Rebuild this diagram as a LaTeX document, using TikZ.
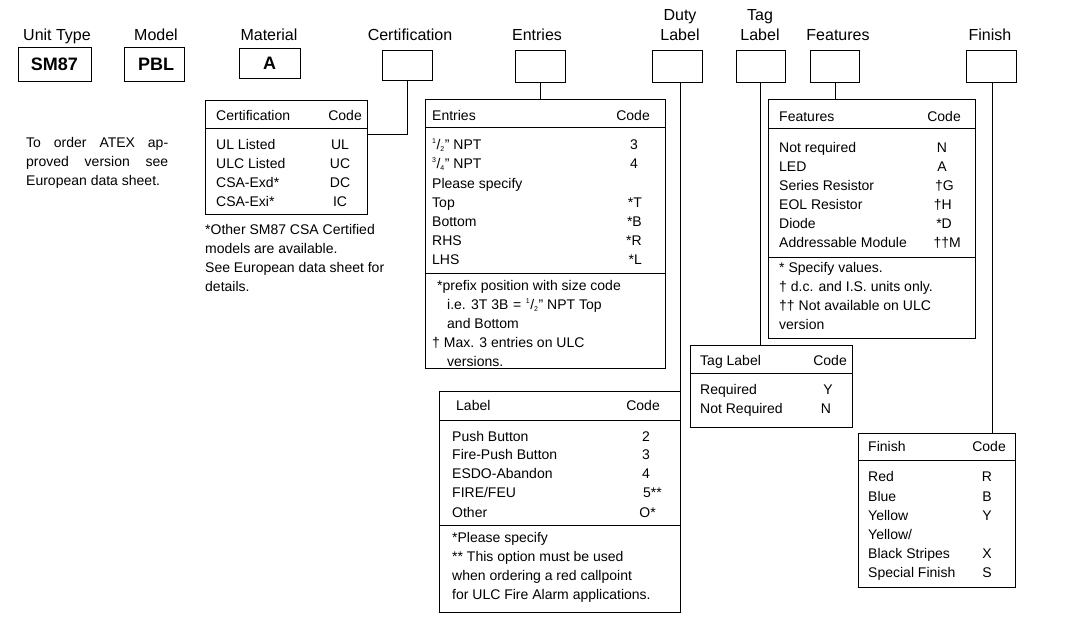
\documentclass[tikz,border=0pt]{standalone}
\usepackage{fontspec}
\setmainfont{Liberation Sans}
\newcommand{\fr}[2]{\textsuperscript{\scriptsize#1}/\textsubscript{\scriptsize#2}}
\newcommand{\T}[4]{\node[txt,anchor=base west] (#1) at (#2,#3) {#4};}
\newcommand{\R}[4]{\node[txt,anchor=base east] (#1) at (#2,#3) {#4};}
\newcommand{\C}[4]{\node[txt,anchor=base] (#1) at (#2,#3) {#4};}
\begin{document}
\begin{tikzpicture}[x=1pt,y=-1pt,
  txt/.style={inner sep=0pt,font=\fontsize{14}{19}\selectfont},
  lbl/.style={inner sep=0pt,font=\fontsize{16}{19}\selectfont,align=center,anchor=base},
  tbl/.style={draw,line width=0.9pt},
  con/.style={draw,line width=0.9pt},
  bigtxt/.style={inner sep=0pt,font=\fontsize{18}{20}\selectfont\bfseries}]
\useasboundingbox (0,0) rectangle (1066,621);
% top labels
\node[lbl] (hU) at (57,40) {Unit Type};
\node[lbl] (hM) at (156,40) {Model};
\node[lbl] (hMa) at (269,40) {Material};
\node[lbl] (hC) at (410,40) {Certification};
\node[lbl] (hE) at (537,40) {Entries};
\node[lbl] (hD1) at (680,20) {Duty};
\node[lbl] (hD2) at (680,40) {Label};
\node[lbl] (hT1) at (760,20) {Tag};
\node[lbl] (hT2) at (760,40) {Label};
\node[lbl] (hF) at (838,40) {Features};
\node[lbl] (hFi) at (990,40) {Finish};
% top boxes
\draw[tbl] (18,47) rectangle (91,81); \node[bigtxt] (bU) at (54.5,64) {SM87};
\draw[tbl] (124,47) rectangle (184,81); \node[bigtxt] (bM) at (156,64) {PBL};
\draw[tbl] (239,48) rectangle (300,78); \node[bigtxt] (bMa) at (269.5,63) {A};
\coordinate (cb) at (407,80); \draw[tbl] (382,50) rectangle (432,80);
\coordinate (eb) at (540,82); \draw[tbl] (515,50) rectangle (565,82);
\coordinate (db) at (680,82); \draw[tbl] (652,50) rectangle (702,82);
\coordinate (tb) at (760,82); \draw[tbl] (736,50) rectangle (785,82);
\coordinate (fb) at (835,82); \draw[tbl] (810,50) rectangle (859,82);
\coordinate (fib) at (992,82); \draw[tbl] (966,50) rectangle (1016,82);
% left text
\node[txt,anchor=north west,text width=142pt,align=justify] (atex) at (26,137) {To order ATEX approved version see European data sheet.};
% Certification table
\draw[tbl] (205,100) rectangle (367,214); \draw[tbl] (205,128)--(367,128);
\T{c0}{216}{120}{Certification} \R{c0c}{362}{120}{Code}
\T{c1}{216}{149}{UL Listed} \C{c1c}{340}{149}{UL}
\T{c2}{216}{168}{ULC Listed} \C{c2c}{340}{168}{UC}
\T{c3}{216}{187}{CSA-Exd*} \C{c3c}{340}{187}{DC}
\T{c4}{216}{206}{CSA-Exi*} \C{c4c}{340}{206}{IC}
\T{cn1}{205}{234}{*Other SM87 CSA Certified}
\T{cn2}{205}{253}{models are available.}
\T{cn3}{205}{272}{See European data sheet for}
\T{cn4}{205}{291}{details.}
\coordinate (cj) at (407,134);
\draw[con] (cb)--(cj)--(367,134);
% Entries table
\draw[tbl] (425,99) rectangle (665,368); \draw[tbl] (425,127)--(665,127); \draw[tbl] (425,273)--(665,273);
\draw[con] (eb)--(540,99);
\T{e0}{432}{120}{Entries} \R{e0c}{650}{120}{Code}
\T{e1}{432}{149}{\fr12" NPT} \C{e1c}{634}{149}{3}
\T{e2}{432}{168}{\fr34" NPT} \C{e2c}{634}{168}{4}
\T{e3}{432}{188}{Please specify}
\T{e4}{432}{207}{Top} \R{e4c}{642}{207}{*T}
\T{e5}{432}{226}{Bottom} \R{e5c}{642}{226}{*B}
\T{e6}{432}{245}{RHS} \R{e6c}{642}{245}{*R}
\T{e7}{432}{264}{LHS} \R{e7c}{642}{264}{*L}
\T{en1}{437}{290}{*prefix position with size code}
\T{en2}{447}{309}{i.e. 3T 3B\,\,=\,\,\fr12" NPT Top}
\T{en3}{447}{328}{and Bottom}
\T{en4}{432}{347}{† Max. 3 entries on ULC}
\T{en5}{447}{366}{versions.}
% Duty label table
\draw[tbl] (439,391) rectangle (680,612); \draw[tbl] (439,420)--(680,420); \draw[tbl] (439,525)--(680,525);
\draw[con] (db)--(680,391);
\T{l0}{456}{410}{Label} \R{l0c}{660}{410}{Code}
\T{l1}{452}{441}{Push Button} \C{l1c}{646}{441}{2}
\T{l2}{452}{459}{Fire-Push Button} \C{l2c}{646}{459}{3}
\T{l3}{452}{478}{ESDO-Abandon} \C{l3c}{646}{478}{4}
\T{l4}{452}{497}{FIRE/FEU} \R{l4c}{662}{497}{5**}
\T{l5}{452}{517}{Other} \R{l5c}{656}{517}{O*}
\T{ln1}{452}{542}{*Please specify}
\T{ln2}{452}{561}{** This option must be used}
\T{ln3}{452}{580}{when ordering a red callpoint}
\T{ln4}{452}{599}{for ULC Fire Alarm applications.}
% Tag table
\draw[tbl] (690,345) rectangle (852,427); \draw[tbl] (690,373)--(852,373);
\draw[con] (tb)--(760,345);
\T{t0}{700}{365}{Tag Label} \R{t0c}{847}{365}{Code}
\T{t1}{700}{394}{Required} \C{t1c}{828}{394}{Y}
\T{t2}{700}{413}{Not Required} \C{t2c}{826}{413}{N}
% Features table
\draw[tbl] (768,99) rectangle (975,338); \draw[tbl] (768,128)--(975,128); \draw[tbl] (768,257)--(975,257);
\draw[con] (fb)--(835,99);
\T{f0}{779}{121}{Features} \R{f0c}{961}{121}{Code}
\T{f1}{779}{152}{Not required} \C{f1c}{942}{152}{N}
\T{f2}{779}{171}{LED} \C{f2c}{942}{171}{A}
\T{f3}{779}{190}{Series Resistor} \R{f3c}{954}{190}{†G}
\T{f4}{779}{209}{EOL Resistor} \R{f4c}{952}{209}{†H}
\T{f5}{779}{228}{Diode} \R{f5c}{952}{228}{*D}
\T{f6}{779}{247}{Addressable Module} \R{f6c}{961}{247}{††M}
\T{fn1}{779}{272}{* Specify values.}
\T{fn2}{779}{291}{† d.c. and I.S. units only.}
\T{fn3}{779}{310}{†† Not available on ULC}
\T{fn4}{779}{329}{version}
% Finish table
\draw[tbl] (858,433) rectangle (1015,587); \draw[tbl] (858,460)--(1015,460);
\draw[con] (fib)--(992,433);
\T{s0}{868}{451}{Finish} \R{s0c}{1006}{451}{Code}
\T{s1}{868}{481}{Red} \C{s1c}{987}{481}{R}
\T{s2}{868}{501}{Blue} \C{s2c}{987}{501}{B}
\T{s3}{868}{520}{Yellow} \C{s3c}{987}{520}{Y}
\T{s4}{868}{539}{Yellow/}
\T{s5}{868}{558}{Black Stripes} \C{s5c}{987}{558}{X}
\T{s6}{868}{577}{Special Finish} \C{s6c}{987}{577}{S}
\end{tikzpicture}
\end{document}
